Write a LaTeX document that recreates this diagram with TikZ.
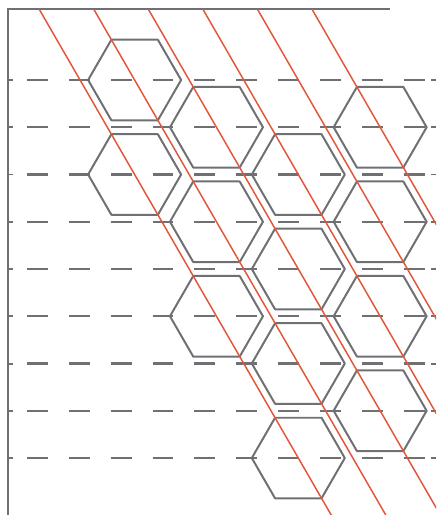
\documentclass[tikz,border=0pt]{standalone}
\usepackage{xcolor}
\usepackage{tikz}
\usetikzlibrary{calc}
\definecolor{hexgray}{HTML}{6E7074}
\definecolor{rust}{HTML}{E2573D}

\begin{document}
\begin{tikzpicture}[
  hexline/.style={hexgray, line width=1.2pt, line join=round},
  guide/.style={hexgray, line width=1.4pt, dash pattern=on 12.6pt off 12.6pt},
  axisline/.style={hexgray, line width=1.2pt},
  diag/.style={rust, line width=0.9pt}]
  \useasboundingbox (0,0) rectangle (9.228,10.899);
  \begin{scope}
    \clip (0,0) rectangle (9.228,10.899);
    % dashed rows and their ticks
    \foreach \j in {0,...,8} {
      \draw[guide] (0.571,9.206-\j) -- (9.228,9.206-\j);
      \draw[axisline] (0.176,9.206-\j) -- (0.28,9.206-\j);
      \draw[axisline] (9.12,9.206-\j) -- (9.228,9.206-\j);
    }
    % frame
    \draw[axisline] (0.176,0) -- (0.176,10.703) -- (8.254,10.703);
    % hexagons, column / row
    \foreach \c/\j in {0/0,0/2,1/1,1/3,1/5,2/2,2/4,2/6,2/8,3/1,3/3,3/5,3/7}
      \draw[hexline] (2.849+1.732*\c,9.206-\j) +(0:0.984) -- +(60:0.984) -- +(120:0.984)
        -- +(180:0.984) -- +(240:0.984) -- +(300:0.984) -- cycle;
    % slanted lines
    \foreach \k in {0,...,5}
      \draw[diag] (0.830+1.1547*\k,10.703) -- ++(-60:13);
  \end{scope}
\end{tikzpicture}
\end{document}
